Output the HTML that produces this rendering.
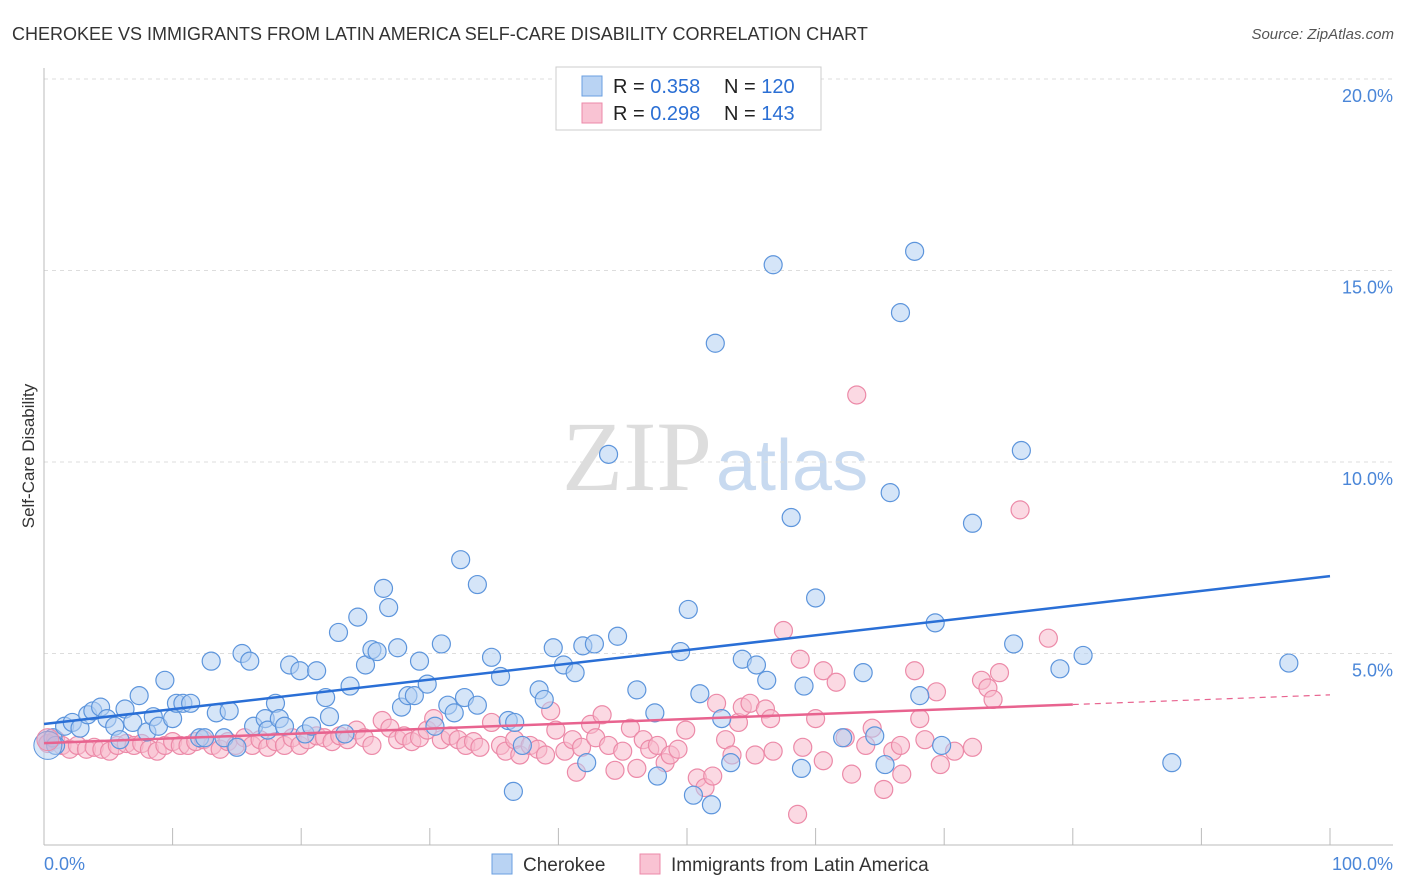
<!DOCTYPE html>
<html><head><meta charset="utf-8"><style>
body{margin:0;background:#fff;font-family:"Liberation Sans",sans-serif;}
#wrap{position:relative;width:1406px;height:892px;overflow:hidden;}
</style></head><body>
<div id="wrap">
<svg id="svg" width="1406" height="892" xmlns="http://www.w3.org/2000/svg">
<text x="12" y="40" font-size="18" fill="#333">CHEROKEE VS IMMIGRANTS FROM LATIN AMERICA SELF-CARE DISABILITY CORRELATION CHART</text>
<text x="1394" y="39" font-size="15" fill="#555" font-style="italic" text-anchor="end">Source: ZipAtlas.com</text>
<text x="712" y="490" font-size="100" fill="#ddd" font-family="Liberation Serif,serif" text-anchor="end">ZIP</text>
<text x="716" y="490" font-size="72" fill="#c8daf0" text-anchor="start">atlas</text>
<text x="34" y="456" font-size="17" fill="#333" text-anchor="middle" transform="rotate(-90 34 456)">Self-Care Disability</text>
<g id="grid"></g><g id="marks"></g>
<g>
<rect x="556" y="67" width="265" height="63" fill="#fff" stroke="#ccc"/>
<rect x="582" y="76" width="20" height="20" fill="#b9d3f3" stroke="#6a9fe0"/>
<rect x="582" y="103" width="20" height="20" fill="#f9c3d3" stroke="#ec8aa8"/>
<text x="613" y="93" font-size="20" fill="#222">R = <tspan fill="#2b6fd4">0.358</tspan><tspan x="724">N = </tspan><tspan fill="#2b6fd4">120</tspan></text>
<text x="613" y="120" font-size="20" fill="#222">R = <tspan fill="#2b6fd4">0.298</tspan><tspan x="724">N = </tspan><tspan fill="#2b6fd4">143</tspan></text>
</g>
<g>
<rect x="492" y="854" width="20" height="20" fill="#b9d3f3" stroke="#6a9fe0"/>
<text x="523" y="871" font-size="19" fill="#333">Cherokee</text>
<rect x="640" y="854" width="20" height="20" fill="#f9c3d3" stroke="#ec8aa8"/>
<text x="671" y="871" font-size="19" fill="#333">Immigrants from Latin America</text>
</g>
</svg></div>
<script>
const blueX=[0.7,0.9,1.6,2.2,2.8,3.4,3.8,4.4,4.9,5.5,5.9,6.3,6.9,7.4,8.0,8.5,8.9,9.4,10,10.3,10.8,11.4,12.1,12.5,13,13.4,14,14.4,15,15.4,16,16.3,17.2,17.4,18,18.3,18.7,19.1,19.9,20.3,20.8,21.2,21.9,22.2,22.9,23.4,23.8,24.4,25,25.5,25.9,26.4,26.8,27.5,27.8,28.3,28.8,29.2,29.8,30.4,30.9,31.4,31.9,32.4,32.7,33.7,33.7,34.8,35.5,36.1,36.5,36.6,37.2,38.5,38.9,39.6,40.4,41.3,41.9,42.8,42.2,44.6,46.1,47.5,47.7,49.5,50.1,50.5,51,51.9,52.2,52.7,53.4,54.3,55.4,56.2,56.7,58.1,58.9,59.1,60,62.1,63.7,64.6,65.4,65.8,66.6,67.7,68.1,69.3,69.8,72.2,75.4,76,79,80.8,87.7,96.8,43.9];
const blueY=[2.8,2.6,3.1,3.2,3.05,3.4,3.5,3.6,3.3,3.1,2.75,3.55,3.2,3.9,2.95,3.35,3.1,4.3,3.3,3.7,3.7,3.7,2.8,2.8,4.8,3.45,2.8,3.5,2.55,5.0,4.8,3.1,3.3,3.0,3.7,3.3,3.1,4.7,4.55,2.9,3.1,4.55,3.85,3.35,5.55,2.9,4.15,5.95,4.7,5.1,5.05,6.7,6.2,5.15,3.6,3.9,3.9,4.8,4.2,3.1,5.25,3.65,3.45,7.45,3.85,6.8,3.65,4.9,4.4,3.25,1.4,3.2,2.6,4.05,3.8,5.15,4.7,4.5,5.2,5.25,2.15,5.45,4.05,3.45,1.8,5.05,6.15,1.3,3.95,1.05,13.1,3.3,2.15,4.85,4.7,4.3,15.15,8.55,2.0,4.15,6.45,2.8,4.5,2.85,2.1,9.2,13.9,15.5,3.9,5.8,2.6,8.4,5.25,10.3,4.6,4.95,2.15,4.75,10.2];
const pinkX=[0.3,0.9,1.4,2,2.6,3.3,3.9,4.5,5.1,5.7,6.4,7,7.6,8.2,8.8,9.4,10,10.6,11.2,11.8,12.4,13.1,13.7,14.3,14.9,15.6,16.2,16.8,17.4,18,18.7,19.3,19.9,20.5,21.2,21.8,22.4,23,23.6,24.3,24.9,25.5,26.3,26.9,27.5,28,28.6,29.2,29.8,30.3,30.9,31.6,32.2,32.8,33.4,33.9,34.8,35.5,35.9,36.6,37,37.8,38.4,39,39.4,39.8,40.5,41.1,41.4,41.8,42.5,42.9,43.4,43.9,44.4,45,45.6,46.1,46.6,47.1,47.7,48.3,48.7,49.3,49.9,50.8,51.4,52,52.3,53,53.5,54,54.3,54.9,55.3,56.1,56.5,56.7,57.5,58.8,59,58.6,60,60.6,60.6,61.6,62.3,62.8,63.2,63.9,64.4,65.3,66,66.6,66.7,67.7,68.1,68.5,69.4,69.7,70.8,72.2,72.9,73.4,73.8,74.3,75.9,78.1];
const pinkY=[2.65,2.75,2.6,2.5,2.6,2.5,2.55,2.5,2.45,2.6,2.65,2.6,2.65,2.5,2.45,2.6,2.7,2.6,2.6,2.7,2.75,2.6,2.5,2.7,2.6,2.8,2.6,2.75,2.55,2.7,2.6,2.8,2.6,2.75,2.85,2.8,2.7,2.85,2.75,3.0,2.8,2.6,3.25,3.05,2.75,2.85,2.7,2.8,3.0,3.3,2.75,2.85,2.75,2.6,2.7,2.55,3.2,2.6,2.45,2.75,2.35,2.6,2.5,2.35,3.5,3.0,2.45,2.75,1.9,2.55,3.15,2.8,3.4,2.6,1.95,2.45,3.05,2.0,2.75,2.5,2.6,2.15,2.35,2.5,3.0,1.75,1.5,1.8,3.7,2.75,2.35,3.2,3.6,3.7,2.35,3.55,3.3,2.45,5.6,4.85,2.55,0.8,3.3,2.2,4.55,4.25,2.8,1.85,11.75,2.6,3.05,1.45,2.45,2.6,1.85,4.55,3.3,2.75,4.0,2.1,2.45,2.55,4.3,4.1,3.8,4.5,8.75,5.4];
const yTicks=[5,10,15,20];
const yTickLabels=["5.0%","10.0%","15.0%","20.0%"];
const xTicks=[0,10,20,30,40,50,60,70,80,90,100];
const blueTrend=[3.16,7.02];
const pinkTrend=[2.66,3.92];
const NS="http://www.w3.org/2000/svg";
const X0=44,X1=1330,Y0=845,YS=38.3;
const sx=v=>X0+(X1-X0)*v/100, sy=v=>Y0-v*YS;
function mk(tag,attrs,parent){const e=document.createElementNS(NS,tag);for(const k in attrs)e.setAttribute(k,attrs[k]);parent.appendChild(e);return e;}
const grid=document.getElementById('grid'),marks=document.getElementById('marks');
yTicks.forEach((t,i)=>{
 const l=mk('line',{x1:X0,x2:1393,y1:sy(t),y2:sy(t),stroke:'#ddd','stroke-dasharray':'4,4'},grid);
 
 
 const tx=mk('text',{x:1393,y:sy(t)+23,'font-size':18,fill:'#4a86d8','text-anchor':'end'},grid);
 tx.textContent=yTickLabels[i];
 
 
});
const ya=mk('line',{x1:X0,x2:X0,y1:68,y2:Y0,stroke:'#bbb'},grid);


const xa=mk('line',{x1:X0,x2:1393,y1:Y0,y2:Y0,stroke:'#bbb'},grid);


xTicks.forEach(t=>{
 const l=mk('line',{x1:sx(t),x2:sx(t),y1:828,y2:Y0,stroke:'#bbb'},grid);
 
 
});
const xl0=mk('text',{x:44,y:870,'font-size':18,fill:'#4a86d8'},grid);xl0.textContent='0.0%';


const xl1=mk('text',{x:1393,y:870,'font-size':18,fill:'#4a86d8','text-anchor':'end'},grid);xl1.textContent='100.0%';


function pts(xs,ys,fill,stroke,name){
 xs.forEach((x,i)=>{
  const c=mk('circle',{cx:sx(x),cy:sy(ys[i]),r:9,fill:fill,'fill-opacity':0.55,stroke:stroke,'stroke-width':1.2},marks);
  
  
 });
}
pts(pinkX,pinkY,'#f7b9cc','#ec8aa8','point-immigrants');
pts(blueX,blueY,'#b3cff2','#5d95dc','point-cherokee');
const bigB=mk('circle',{cx:sx(0.3),cy:sy(2.6),r:14,fill:'#b3cff2','fill-opacity':0.5,stroke:'#5d95dc'},marks);


const bigP=mk('circle',{cx:sx(0.3),cy:sy(2.75),r:11,fill:'#d6a3c6','fill-opacity':0.5,stroke:'#ec8aa8'},marks);


const bl=mk('line',{x1:sx(0),y1:sy(blueTrend[0]),x2:sx(100),y2:sy(blueTrend[1]),stroke:'#2a6fd6','stroke-width':2.5},marks);


const pv=v=>pinkTrend[0]+(pinkTrend[1]-pinkTrend[0])*v/100;
const pl=mk('line',{x1:sx(0),y1:sy(pv(0)),x2:sx(80),y2:sy(pv(80)),stroke:'#e8638f','stroke-width':2.5},marks);


const pd=mk('line',{x1:sx(80),y1:sy(pv(80)),x2:sx(100),y2:sy(pv(100)),stroke:'#e8638f','stroke-width':1.2,'stroke-dasharray':'6,5'},marks);


</script>
</body></html>
